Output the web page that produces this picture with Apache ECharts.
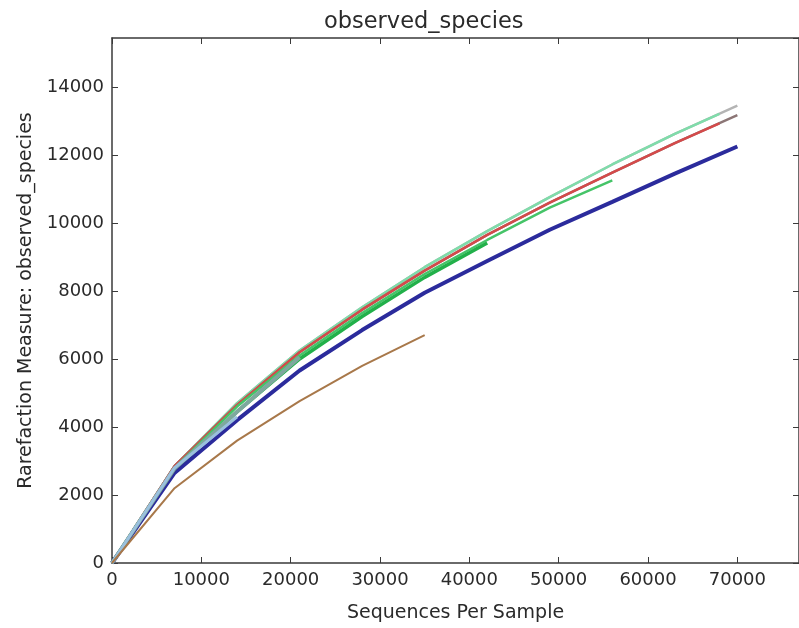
<!DOCTYPE html>
<html>
<head>
<meta charset="utf-8">
<title>observed_species</title>
<script src="https://cdn.jsdelivr.net/npm/echarts@6/dist/echarts.min.js"></script>
<style>
  html, body { margin: 0; padding: 0; background: #fff; }
  #chart { width: 799px; height: 628px; }
</style>
</head>
<body>
<div id="chart"></div>
<script>
'use strict';

// rarefaction depths (sequences per sample)
var steps = [0, 7000, 14000, 21000, 28000, 35000, 42000, 49000, 56000, 63000, 70000];
var lateSteps = [0, 7000, 14000, 21000, 28000, 35000, 42000, 49000, 56000, 63000, 68000];

// observed species per sample
var brownVals = [0, 2200, 3600, 4760, 5800, 6700];
var blueVals = [0, 2650, 4200, 5660, 6850, 7950, 8880, 9800, 10620, 11450, 12250];
var greenVals = [0, 2750, 4450, 6000, 7250, 8400, 9410];
var midGreenVals = [0, 2800, 4600, 6100, 7350, 8500, 9500, 10450, 11250];
var grayVals = [0, 2850, 4700, 6250, 7520, 8700, 9760, 10760, 11720, 12620, 13450];
var mintVals = [0, 2850, 4700, 6250, 7520, 8700, 9760, 10760, 11720, 12620, 13210];
var darkVals = [0, 2850, 4650, 6200, 7450, 8600, 9650, 10600, 11480, 12350, 13170];
var redVals = [0, 2850, 4650, 6200, 7450, 8600, 9650, 10600, 11480, 12350, 12930];
var tealVals = [0, 2780, 4450, 6050];
var lightBlueVals = [0, 2800, 4300];

var yTicks = [0, 2000, 4000, 6000, 8000, 10000, 12000, 14000];
var xTicks = [0, 10000, 20000, 30000, 40000, 50000, 60000, 70000];

function pairs(xs, ys) {
    return ys.map(function (v, i) { return [xs[i], v]; });
}

function line(name, xs, ys, color, width) {
    return {
        name: name,
        type: 'line',
        data: pairs(xs, ys),
        showSymbol: false,
        symbol: 'none',
        smooth: false,
        lineStyle: { color: color, width: width },
        xAxisIndex: 0,
        yAxisIndex: 0
    };
}

var textColor = '#2a2a2a';
var spine = { show: true, onZero: false, lineStyle: { color: '#3a3a3a', width: 1.5 } };
var tick = { show: true, inside: true, length: 6, lineStyle: { color: '#3a3a3a', width: 1 } };

var chart = echarts.init(document.getElementById('chart'));
var option = {
    animation: false,
    backgroundColor: '#fff',
    title: {
        text: 'observed_species',
        left: 324,
        top: 11,
        padding: 0,
        textStyle: { fontFamily: 'DejaVu Sans', fontSize: 22.5, fontWeight: 'normal', color: textColor }
    },
    // the right frame sits just outside the picture, as in the reference crop
    grid: { left: 112, top: 38, right: -2, bottom: 55, containLabel: false },
    xAxis: [{
        type: 'value',
        min: 0,
        max: 76900,
        interval: 10000,
        name: 'Sequences Per Sample',
        nameLocation: 'middle',
        nameGap: 41,
        nameTextStyle: { fontFamily: 'DejaVu Sans', fontSize: 19, color: textColor },
        axisLine: spine,
        axisTick: tick,
        splitLine: { show: false },
        axisLabel: {
            fontFamily: 'DejaVu Sans', fontSize: 18, color: textColor, margin: 8,
            showMaxLabel: false,
            formatter: function (v) { return xTicks.indexOf(v) >= 0 ? String(v) : ''; }
        }
    }, {
        type: 'value',
        position: 'top',
        min: 0,
        max: 76900,
        interval: 10000,
        axisLine: spine,
        axisTick: tick,
        splitLine: { show: false },
        axisLabel: { show: false }
    }],
    yAxis: [{
        type: 'value',
        min: 0,
        max: 15440,
        interval: 2000,
        name: 'Rarefaction Measure: observed_species',
        nameLocation: 'middle',
        nameGap: 70,
        nameTextStyle: { fontFamily: 'DejaVu Sans', fontSize: 19, color: textColor },
        axisLine: spine,
        axisTick: tick,
        splitLine: { show: false },
        axisLabel: {
            fontFamily: 'DejaVu Sans', fontSize: 18, color: textColor, margin: 8,
            showMaxLabel: false,
            formatter: function (v) { return yTicks.indexOf(v) >= 0 ? String(v) : ''; }
        }
    }, {
        type: 'value',
        position: 'right',
        min: 0,
        max: 15440,
        interval: 2000,
        axisLine: spine,
        axisTick: tick,
        splitLine: { show: false },
        axisLabel: { show: false }
    }],
    series: [
        line('gray', steps, grayVals, '#b4b4b4', 2.5),
        line('mint', lateSteps, mintVals, '#7fdcaa', 2.5),
        line('dark', steps, darkVals, '#8c7676', 2.5),
        line('red', lateSteps, redVals, '#d44a4a', 2.5),
        line('midgreen', steps, midGreenVals, '#45c468', 2.5),
        line('green', steps, greenVals, '#22b04a', 3.5),
        line('blue', steps, blueVals, '#2b2b9c', 4),
        line('teal', steps, tealVals, '#7ea89e', 4),
        line('lightblue', steps, lightBlueVals, '#9ac0de', 3),
        line('brown', steps, brownVals, '#a8784a', 2)
    ]
};
chart.setOption(option);
</script>
</body>
</html>
